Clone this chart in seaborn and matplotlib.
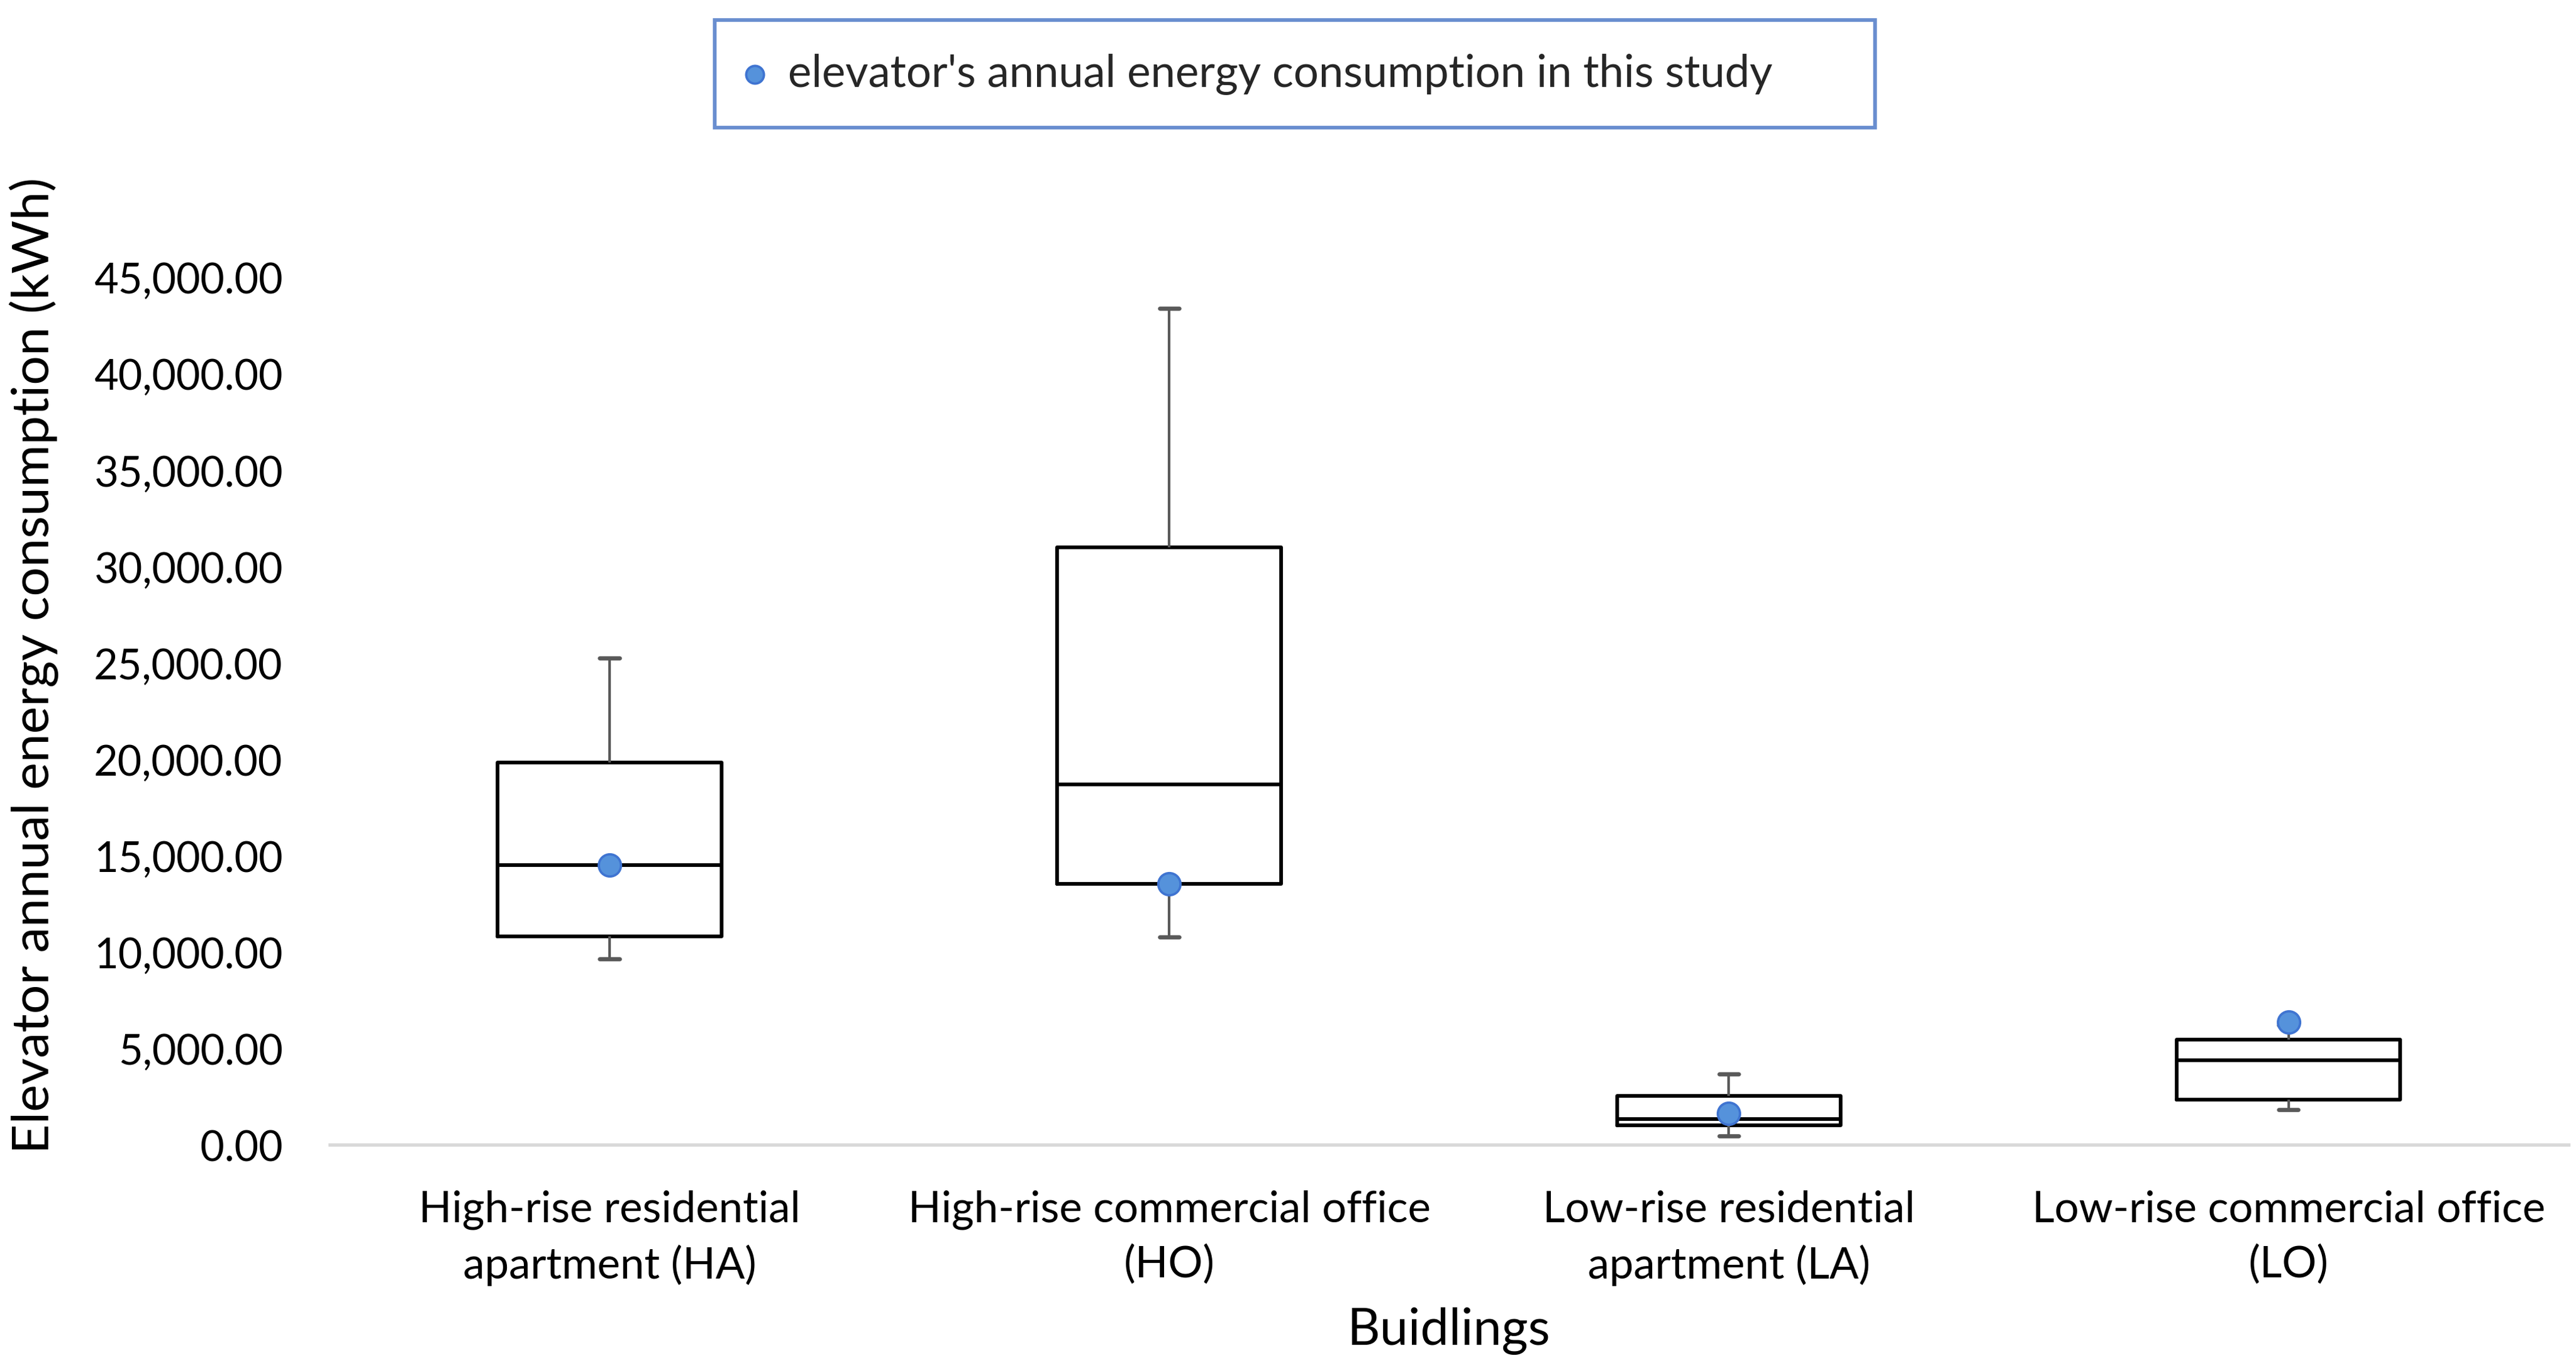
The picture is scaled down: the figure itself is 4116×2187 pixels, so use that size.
import pandas as pd
import matplotlib
matplotlib.use("Agg")
import matplotlib.pyplot as plt
import seaborn as sns
from matplotlib.ticker import FuncFormatter

# ---- data ----
categories = [
    "High-rise residential\napartment (HA)",
    "High-rise commercial office\n(HO)",
    "Low-rise residential\napartment (LA)",
    "Low-rise commercial office\n(LO)",
]
whisker_low = [9650, 10780, 460, 1840]
q1 = [10820, 13550, 1030, 2350]
median = [14500, 18700, 1340, 4400]
q3 = [19820, 30990, 2540, 5460]
whisker_high = [25250, 43400, 3690, 6200]
study_value = [14500, 13550, 1650, 6370]

legend_label = "elevator's annual energy consumption in this study"

# five-number summaries -> long table, whis=(0, 100) makes seaborn reproduce them exactly
rows = []
for i, cat in enumerate(categories):
    for v in (whisker_low[i], q1[i], median[i], q3[i], whisker_high[i]):
        rows.append({"Building": cat, "Energy": v})
df = pd.DataFrame(rows)
df_pts = pd.DataFrame({"Building": categories, "Energy": study_value})

sns.set_theme(style="white")
plt.rcParams["font.family"] = ["Lato", "DejaVu Sans"]

fig = plt.figure(figsize=(13.72, 7.293), dpi=300)
ax = fig.add_axes([0.128, 0.163, 0.869, 0.634])

sns.boxplot(
    data=df, x="Building", y="Energy", order=categories,
    whis=(0, 100), width=0.4, fill=False, color="black", linewidth=1.4,
    boxprops=dict(color="black", linewidth=1.4),
    medianprops=dict(color="black", linewidth=1.4),
    whiskerprops=dict(color="#595959", linewidth=1.0),
    capprops=dict(color="#595959", linewidth=1.6),
    capwidths=0.035, showfliers=False, ax=ax,
)

sns.stripplot(
    data=df_pts, x="Building", y="Energy", order=categories,
    jitter=False, size=8.5, color="#5592DB", edgecolor="#3F74D1",
    linewidth=0.9, zorder=5, label=legend_label, legend=False, ax=ax,
)
if ax.get_legend() is not None:
    ax.get_legend().remove()

ax.set_xlim(-0.5, 3.5)
ax.set_ylim(0, 45000)
ax.set_yticks(range(0, 45001, 5000))
ax.yaxis.set_major_formatter(FuncFormatter(lambda v, p: f"{v:,.2f}"))
ax.tick_params(axis="y", length=0, pad=18, labelsize=16, labelcolor="black")
ax.tick_params(axis="x", length=0, pad=17, labelsize=16.6, labelcolor="black")
for t in ax.get_xticklabels():
    t.set_linespacing(1.45)

ax.set_xlabel("Buidlings", fontsize=19.5, color="black", labelpad=8)
ax.set_ylabel("Elevator annual energy consumption (kWh)", fontsize=19.8, color="black")
ax.yaxis.set_label_coords(-0.121, 0.553)

for side in ["top", "right", "left"]:
    ax.spines[side].set_visible(False)
ax.spines["bottom"].set_color("#D9D9D9")
ax.spines["bottom"].set_linewidth(1.3)
ax.grid(False)

handles, labels = ax.get_legend_handles_labels()
leg = fig.legend(
    handles[:1], labels[:1],
    loc="center", bbox_to_anchor=(0.2775, 0.907, 0.4505, 0.0775),
    bbox_transform=fig.transFigure, mode="expand", borderaxespad=0,
    fontsize=17, frameon=True, fancybox=False, borderpad=0.75,
    handletextpad=0.6, handlelength=0.3, markerscale=0.8,
)
leg.get_frame().set_edgecolor("#4472C4")
leg.get_frame().set_linewidth(1.4)

fig.savefig("out.png", dpi=300, facecolor="white")
